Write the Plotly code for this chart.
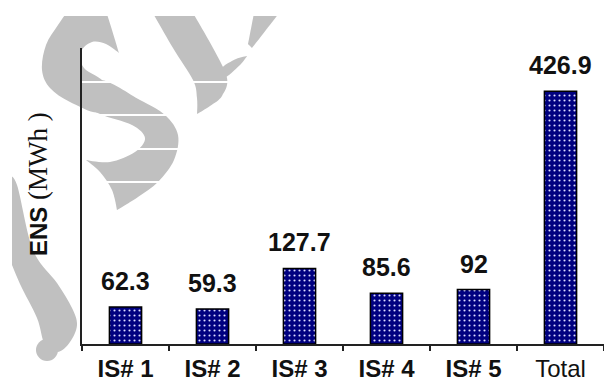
import base64
import plotly.graph_objects as go

# Energy not supplied per island system and overall
categories = ["IS# 1", "IS# 2", "IS# 3", "IS# 4", "IS# 5", "Total"]
ens_mwh = [62.3, 59.3, 127.7, 85.6, 92, 426.9]
tick_labels = ["<b>IS# 1</b>", "<b>IS# 2</b>", "<b>IS# 3</b>", "<b>IS# 4</b>", "<b>IS# 5</b>", "Total"]

W, H = 604, 381
L, T, B = 82, 48, 37
plot_w, plot_h = W - L, H - T - B
y_max = 500


def smooth_path(pts, sharp=()):
    """Closed Catmull-Rom outline as an SVG path; indices in `sharp` stay as corners."""
    n = len(pts)
    d = f"M{pts[0][0]},{pts[0][1]}"
    for i in range(n):
        p0, p1, p2, p3 = pts[i - 1], pts[i], pts[(i + 1) % n], pts[(i + 2) % n]
        k1 = 0 if i in sharp else 1 / 6
        k2 = 0 if (i + 1) % n in sharp else 1 / 6
        c1 = (p1[0] + (p2[0] - p0[0]) * k1, p1[1] + (p2[1] - p0[1]) * k1)
        c2 = (p2[0] - (p3[0] - p1[0]) * k2, p2[1] - (p3[1] - p1[1]) * k2)
        d += f" C{c1[0]:.1f},{c1[1]:.1f} {c2[0]:.1f},{c2[1]:.1f} {p2[0]},{p2[1]}"
    return d + " Z"


# Grey calligraphic letter mark behind the plot (canvas pixel units)
s_upper = [(70, 8), (105, 8), (112, 30), (119, 53), (106, 44), (92, 42), (81, 52), (84, 68),
           (105, 84), (100, 112), (70, 102), (50, 88), (42, 70), (46, 45), (58, 25)]
s_lower = [(100, 80), (140, 100), (165, 115), (178, 135), (174, 160), (158, 182), (138, 197),
           (117, 210), (112, 190), (100, 172), (86, 160), (110, 162), (135, 152), (145, 138),
           (132, 125), (100, 114), (80, 100)]
letter_y = [(150, 8), (190, 8), (213, 48), (227, 78), (222, 96), (210, 106), (197, 114),
            (197, 98), (193, 80), (173, 48)]
letter_y_curl = [(222, 68), (236, 59), (247, 56), (240, 65), (224, 78)]
letter_y_arm = [(255, 8), (283, 8), (252, 48), (248, 44)]
letter_j = [(8, 176), (17, 185), (33, 250), (57, 283), (72, 308), (77, 325), (70, 342),
            (58, 352), (45, 345), (37, 318), (20, 284), (8, 255)]

paths = [
    smooth_path(s_upper, sharp={0, 1, 3}),
    smooth_path(s_lower, sharp={7, 10}),
    smooth_path(letter_y, sharp={0, 1, 6}),
    smooth_path(letter_y_curl, sharp={2}),
    smooth_path(letter_y_arm, sharp={0, 1, 2, 3}),
    smooth_path(letter_j, sharp={0, 11}),
]
mark_svg = (
    f'<svg xmlns="http://www.w3.org/2000/svg" width="{W}" height="{H}" viewBox="0 0 {W} {H}">'
    f'<defs><clipPath id="c"><rect x="12" y="16" width="{W}" height="{H}"/></clipPath></defs>'
    f'<g clip-path="url(#c)" fill="#c0c0c0" fill-rule="nonzero">'
    + "".join(f'<path d="{p}"/>' for p in paths)
    + '<circle cx="47" cy="350" r="11"/>'
    + "</g></svg>"
)
mark_uri = "data:image/svg+xml;base64," + base64.b64encode(mark_svg.encode()).decode()

fig = go.Figure()
fig.add_trace(go.Bar(
    x=categories,
    y=ens_mwh,
    marker=dict(
        color="#000080",
        line=dict(color="black", width=1.5),
        pattern=dict(shape=".", fgcolor="#dcdcff", bgcolor="#000080",
                     fillmode="replace", size=5, solidity=0.14),
    ),
    hoverinfo="x+y",
))

for c, v in zip(categories, ens_mwh):
    fig.add_annotation(x=c, y=v, text=f"<b>{v:g}</b>", showarrow=False,
                       yanchor="bottom", yshift=10,
                       font=dict(family="Liberation Sans", size=25, color="#111"))

# Rotated axis caption
fig.add_annotation(
    xref="paper", yref="paper",
    x=(38 - L) / plot_w, y=(H - B - 184) / plot_h,
    text="<b>ENS</b><span style='font-family:Liberation Serif;font-size:27px'> (MWh )</span>",
    textangle=-90, showarrow=False, xanchor="center", yanchor="middle",
    font=dict(family="Liberation Sans", size=24, color="#111"),
)

fig.add_layout_image(dict(
    source=mark_uri, xref="paper", yref="paper",
    x=-L / plot_w, y=1 + T / plot_h,
    sizex=W / plot_w, sizey=H / plot_h,
    xanchor="left", yanchor="top", sizing="stretch", layer="below",
))

fig.update_layout(
    width=W, height=H,
    margin=dict(l=L, r=0, t=T, b=B),
    paper_bgcolor="white",
    plot_bgcolor="rgba(0,0,0,0)",
    showlegend=False,
    bargap=0.63,
    font=dict(family="Liberation Sans", color="#111"),
)
fig.update_xaxes(
    tickvals=categories, ticktext=tick_labels,
    tickson="boundaries", ticks="outside", ticklen=5, tickwidth=1.5, tickcolor="#222",
    showline=True, linecolor="#222", linewidth=1.5, ticklabelstandoff=2,
    showgrid=False, tickfont=dict(size=24, color="#111"),
)
fig.update_yaxes(
    range=[0, y_max], showticklabels=False, ticks="",
    showline=True, linecolor="#222", linewidth=1.5,
    showgrid=True, gridcolor="white", gridwidth=2,
    tick0=y_max, dtick=y_max * 33.5 / plot_h, zeroline=False,
)

fig.write_html("out.html")
